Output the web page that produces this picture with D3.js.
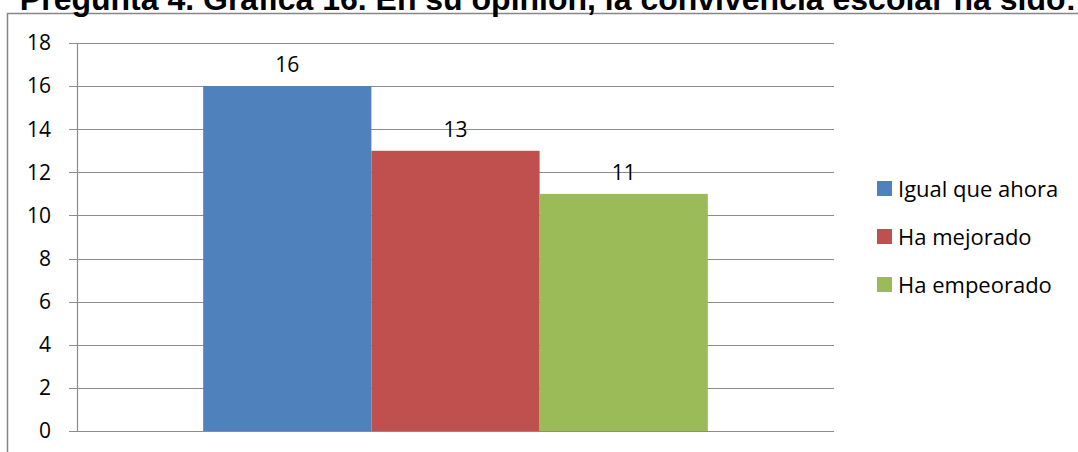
<!DOCTYPE html>
<html>
<head>
<meta charset="utf-8">
<script src="https://cdn.jsdelivr.net/npm/d3@7"></script>
<style>
  body { margin: 0; background: #fff; }
</style>
</head>
<body>
<div id="chart"></div>
<script>
var titleText = "Pregunta 4. Gráfica 16. En su opinión, la convivencia escolar ha sido:";
var categories = ["Igual que ahora", "Ha mejorado", "Ha empeorado"];
var values = [16, 13, 11];
var colors = ["#4f81bd", "#c0504d", "#9bbb59"];
var yTicks = [0, 2, 4, 6, 8, 10, 12, 14, 16, 18];

var w = 1078,
  h = 452;
var svg = d3.select("#chart").append("svg").attr("width", w).attr("height", h);

// outer frame (clipped at right and bottom)
svg
  .append("rect")
  .attr("x", 7.5)
  .attr("y", 13.5)
  .attr("width", 1100)
  .attr("height", 500)
  .style("fill", "none")
  .style("stroke", "#868686")
  .style("stroke-width", 1.5);

svg
  .append("text")
  .attr("x", 548)
  .attr("y", 10)
  .attr("text-anchor", "middle")
  .style("font-family", "Liberation Sans, Arial, sans-serif")
  .style("font-weight", "bold")
  .style("font-size", "32px")
  .text(titleText);

var pLeft = 77,
  pRight = 834,
  pTop = 43,
  pBottom = 431;

var y = d3.scaleLinear().domain([0, 18]).range([pBottom, pTop]);
var x0 = d3.scaleBand().domain(["g"]).range([pLeft, pRight]).paddingInner(0).paddingOuter(0);
var x = d3
  .scaleBand()
  .domain(categories)
  .range([x0("g") + x0.bandwidth() / 6, x0("g") + (x0.bandwidth() * 5) / 6]);

// gridlines
svg
  .selectAll("line.grid")
  .data(yTicks)
  .enter()
  .append("line")
  .attr("class", "grid")
  .attr("x1", pLeft - 8)
  .attr("x2", pRight)
  .attr("y1", function (d) {
    return Math.round(y(d)) + 0.5;
  })
  .attr("y2", function (d) {
    return Math.round(y(d)) + 0.5;
  })
  .style("stroke", "#8c8c8c")
  .style("stroke-width", 1.2);

svg
  .append("line")
  .attr("x1", pLeft + 0.5)
  .attr("x2", pLeft + 0.5)
  .attr("y1", pTop)
  .attr("y2", pBottom)
  .style("stroke", "#8c8c8c")
  .style("stroke-width", 1.2);

svg
  .selectAll("text.tick")
  .data(yTicks)
  .enter()
  .append("text")
  .attr("class", "tick")
  .attr("x", 51)
  .attr("y", function (d) {
    return y(d);
  })
  .attr("dy", "0.35em")
  .attr("text-anchor", "end")
  .style("font-family", "Open Sans, sans-serif")
  .style("font-size", "21px")
  .text(function (d) {
    return d;
  });

svg
  .selectAll("rect.bar")
  .data(values)
  .enter()
  .append("rect")
  .attr("class", "bar")
  .attr("x", function (d, i) {
    return x(categories[i]);
  })
  .attr("y", function (d) {
    return y(d);
  })
  .attr("width", x.bandwidth())
  .attr("height", function (d) {
    return pBottom - y(d);
  })
  .style("fill", function (d, i) {
    return colors[i];
  });

svg
  .selectAll("text.lbl")
  .data(values)
  .enter()
  .append("text")
  .attr("class", "lbl")
  .attr("x", function (d, i) {
    return x(categories[i]) + x.bandwidth() / 2;
  })
  .attr("y", function (d) {
    return y(d) - 21;
  })
  .attr("dy", "0.35em")
  .attr("text-anchor", "middle")
  .style("font-family", "Open Sans, sans-serif")
  .style("font-size", "21px")
  .text(function (d) {
    return d;
  });

// legend
var legend = svg
  .selectAll("g.leg")
  .data(categories)
  .enter()
  .append("g")
  .attr("class", "leg")
  .attr("transform", function (d, i) {
    return "translate(877," + (181 + i * 48) + ")";
  });
legend
  .append("rect")
  .attr("width", 15)
  .attr("height", 15)
  .style("fill", function (d, i) {
    return colors[i];
  });
legend
  .append("text")
  .attr("x", 21)
  .attr("y", 8)
  .attr("dy", "0.35em")
  .style("font-family", "Open Sans, sans-serif")
  .style("font-size", "22px")
  .text(function (d) {
    return d;
  });
</script>
</body>
</html>
